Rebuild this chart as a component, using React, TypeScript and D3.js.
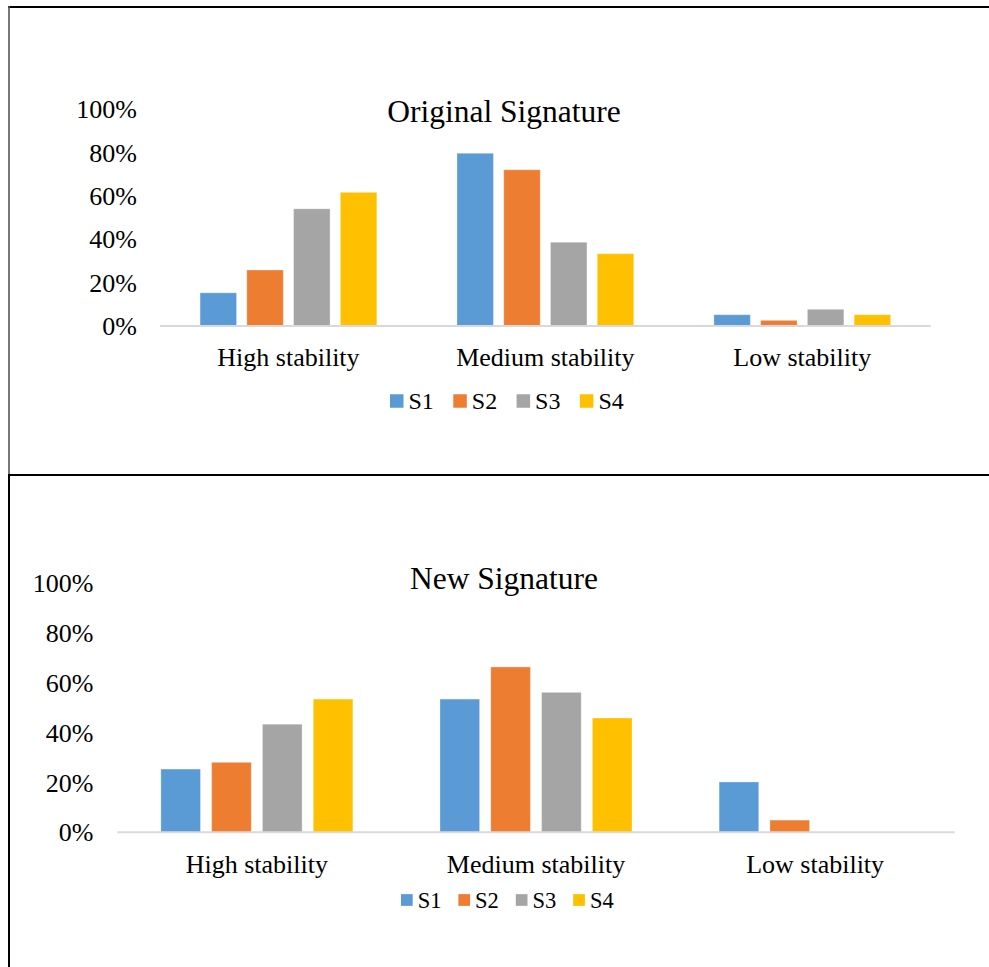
import React from "react";
import * as d3 from "d3";

// Category and series labels shared by both panels
const categories = ["High stability", "Medium stability", "Low stability"];
const seriesNames = ["S1", "S2", "S3", "S4"];
const seriesColors = ["#5b9bd5", "#ed7d31", "#a5a5a5", "#ffc000"];
const tickValues = [0, 0.2, 0.4, 0.6, 0.8, 1.0];

// Original Signature: share of each stability class per series
const originalS1 = [0.153, 0.796, 0.052];
const originalS2 = [0.258, 0.72, 0.026];
const originalS3 = [0.54, 0.386, 0.077];
const originalS4 = [0.616, 0.333, 0.052];

// New Signature: share of each stability class per series
const newS1 = [0.254, 0.535, 0.202];
const newS2 = [0.281, 0.664, 0.049];
const newS3 = [0.434, 0.562, 0];
const newS4 = [0.535, 0.459, 0];

const FONT = "'Liberation Serif', 'Times New Roman', serif";

type Panel = {
  title: string;
  series: number[][];
  plotLeft: number;
  plotRight: number;
  yZero: number;
  yTop: number;
  tickRight: number;
  titleY: number;
  titleSize: number;
  tickSize: number;
  catSize: number;
  catY: number;
  legendX: number;
  legendStep: number;
  legendY: number;
  legendBox: number;
  legendSize: number;
};

const panels: Panel[] = [
  {
    title: "Original Signature",
    series: [originalS1, originalS2, originalS3, originalS4],
    plotLeft: 160,
    plotRight: 930.7,
    yZero: 326,
    yTop: 109,
    tickRight: 137,
    titleY: 122,
    titleSize: 31.5,
    tickSize: 26,
    catSize: 26,
    catY: 366,
    legendX: 390,
    legendStep: 63.3,
    legendY: 401,
    legendBox: 13.5,
    legendSize: 24,
  },
  {
    title: "New Signature",
    series: [newS1, newS2, newS3, newS4],
    plotLeft: 117.3,
    plotRight: 954.7,
    yZero: 832.3,
    yTop: 583.3,
    tickRight: 93.5,
    titleY: 588.5,
    titleSize: 31.5,
    tickSize: 26,
    catSize: 26,
    catY: 873,
    legendX: 401,
    legendStep: 57.4,
    legendY: 900,
    legendBox: 11.7,
    legendSize: 22.5,
  },
];

function PanelChart({ p }: { p: Panel }) {
  const x0 = d3.scaleBand<string>().domain(categories).range([p.plotLeft, p.plotRight]);
  const bw = x0.bandwidth();
  const groupW = bw * 0.688;
  const x1 = d3
    .scaleBand<string>()
    .domain(seriesNames)
    .range([(bw - groupW) / 2, (bw + groupW) / 2])
    .paddingInner(0.22);
  const y = d3.scaleLinear().domain([0, 1]).range([p.yZero, p.yTop]);
  const pct = d3.format(".0%");

  return (
    <g fontFamily={FONT} fill="#000">
      <text x={504} y={p.titleY} fontSize={p.titleSize} textAnchor="middle">
        {p.title}
      </text>
      {tickValues.map((t) => (
        <text
          key={t}
          x={p.tickRight}
          y={y(t)}
          dy="0.35em"
          fontSize={p.tickSize}
          textAnchor="end"
        >
          {pct(t)}
        </text>
      ))}
      {categories.map((c, ci) => (
        <g key={c}>
          {p.series.map((vals, si) =>
            vals[ci] > 0 ? (
              <rect
                key={si}
                x={(x0(c) ?? 0) + (x1(seriesNames[si]) ?? 0)}
                y={y(vals[ci])}
                width={x1.bandwidth()}
                height={y(0) - y(vals[ci])}
                fill={seriesColors[si]}
                stroke="#ffffff"
                strokeOpacity={0.3}
                strokeWidth={1}
              />
            ) : null
          )}
          <text
            x={(x0(c) ?? 0) + bw / 2}
            y={p.catY}
            fontSize={p.catSize}
            textAnchor="middle"
          >
            {c}
          </text>
        </g>
      ))}
      <line
        x1={p.plotLeft}
        x2={p.plotRight}
        y1={y(0)}
        y2={y(0)}
        stroke="#d9d9d9"
        strokeWidth={2}
      />
      {seriesNames.map((s, i) => {
        const lx = p.legendX + i * p.legendStep;
        return (
          <g key={s}>
            <rect
              x={lx}
              y={p.legendY - p.legendBox / 2}
              width={p.legendBox}
              height={p.legendBox}
              fill={seriesColors[i]}
            />
            <text
              x={lx + p.legendBox + 5}
              y={p.legendY}
              dy="0.35em"
              fontSize={p.legendSize}
            >
              {s}
            </text>
          </g>
        );
      })}
    </g>
  );
}

export default function App() {
  return (
    <svg
      width={989}
      height={967}
      style={{ position: "absolute", left: 0, top: 0, background: "#fff" }}
    >
      <rect x={0} y={0} width={989} height={967} fill="#fff" />
      {panels.map((p) => (
        <PanelChart key={p.title} p={p} />
      ))}
      <line x1={8} x2={989} y1={7} y2={7} stroke="#000" strokeWidth={2} />
      <line x1={9} x2={9} y1={6} y2={474} stroke="#555" strokeWidth={1.6} />
      <line x1={9} x2={9} y1={474} y2={967} stroke="#000" strokeWidth={2} />
      <line x1={8} x2={989} y1={475} y2={475} stroke="#000" strokeWidth={2} />
    </svg>
  );
}
